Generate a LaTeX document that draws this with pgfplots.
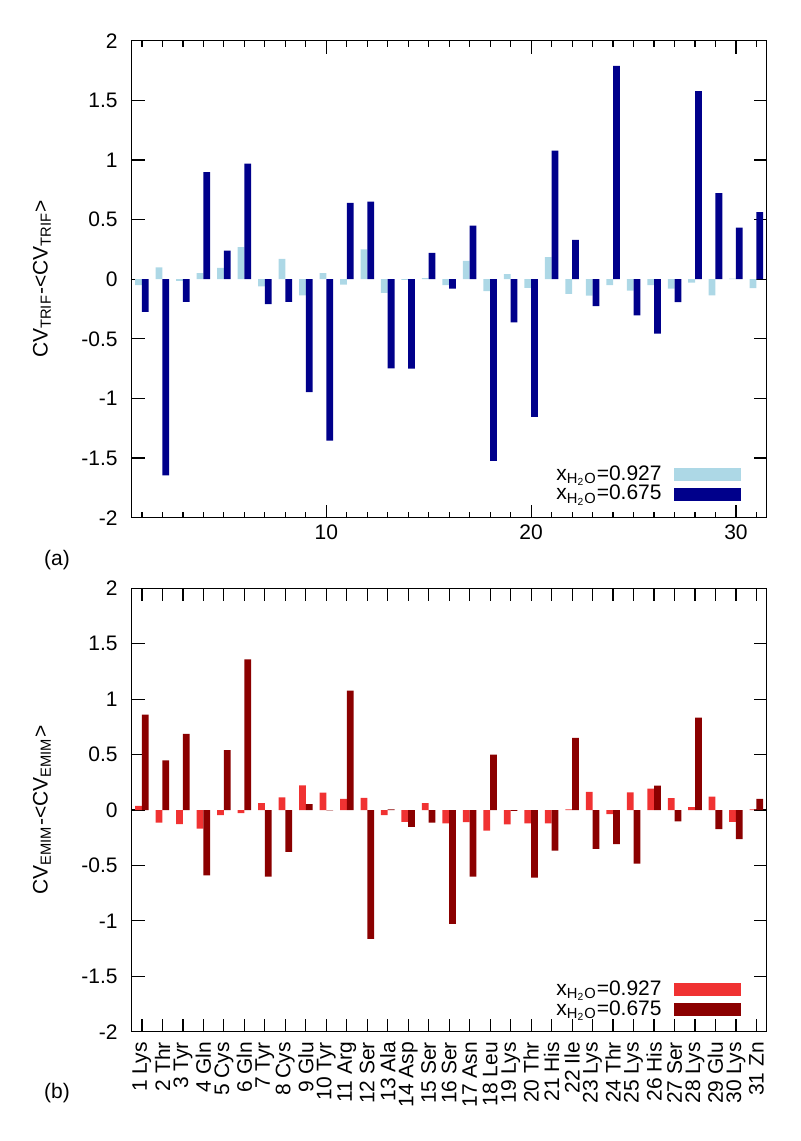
\documentclass[border=0pt]{standalone}
\usepackage{fontspec}
\setmainfont{Liberation Sans}
\usepackage{pgfplots}
\usepackage{pgfplotstable}
\pgfplotsset{compat=1.18}
\definecolor{lb}{RGB}{173,216,230}
\definecolor{db}{RGB}{0,0,139}
\definecolor{lr}{RGB}{240,50,50}
\definecolor{dr}{RGB}{139,0,0}

\pgfplotstableread{
x a b
1 -0.05 -0.275
2 0.10 -1.645
3 -0.015 -0.19
4 0.05 0.897
5 0.095 0.24
6 0.27 0.97
7 -0.06 -0.21
8 0.17 -0.19
9 -0.135 -0.946
10 0.05 -1.353
11 -0.045 0.64
12 0.25 0.65
13 -0.115 -0.747
14 -0.005 -0.75
15 0.01 0.22
16 -0.05 -0.078
17 0.153 0.45
18 -0.10 -1.523
19 0.043 -0.363
20 -0.072 -1.154
21 0.185 1.079
22 -0.124 0.329
23 -0.138 -0.225
24 -0.049 1.788
25 -0.095 -0.303
26 -0.049 -0.456
27 -0.08 -0.193
28 -0.029 1.578
29 -0.135 0.721
30 0.005 0.433
31 -0.075 0.562
}\trif

\pgfplotstableread{
x a b
1 0.037 0.86
2 -0.113 0.447
3 -0.127 0.687
4 -0.167 -0.59
5 -0.047 0.54
6 -0.027 1.36
7 0.063 -0.60
8 0.113 -0.377
9 0.223 0.053
10 0.157 -0.003
11 0.10 1.077
12 0.11 -1.163
13 -0.047 0.005
14 -0.107 -0.153
15 0.063 -0.113
16 -0.12 -1.027
17 -0.11 -0.60
18 -0.187 0.50
19 -0.13 -0.007
20 -0.12 -0.61
21 -0.12 -0.367
22 0.005 0.65
23 0.163 -0.35
24 -0.037 -0.307
25 0.16 -0.483
26 0.193 0.22
27 0.107 -0.103
28 0.027 0.833
29 0.12 -0.173
30 -0.107 -0.263
31 0.005 0.10
}\emim

\pgfplotsset{
  common/.style={
    scale only axis,
    width=317.5pt,
    xmin=0.5, xmax=31.5,
    ymin=-2, ymax=2,
    ytick={-2,-1.5,...,2},
    yticklabels={-2,-1.5,-1,-0.5,0,0.5,1,1.5,2},
    yticklabel style={xshift=-3.5pt},
    axis line style={line width=0.7pt},
    every tick/.style={black, line width=0.6pt},
    major tick length=6.5pt,
    minor tick length=3pt,
    tick align=inside,
    legend plot pos=right,
    legend cell align=right,
    legend style={draw=none, fill=none, at={(0.9595,0.03)}, anchor=south east,
      inner sep=0pt, row sep=1pt, column sep=5pt,
      nodes={inner xsep=1pt, inner ysep=0pt}},
  },
  swatch/.style={legend image code/.code={\path[##1, draw=none] (0pt,-3.2pt) rectangle (33.5pt,3.2pt);}},
}

\begin{document}
\begin{tikzpicture}[font=\fontsize{10.5}{12.5}\selectfont]
\path[use as bounding box] (0,0) rectangle (400pt,-570.5pt);

\begin{axis}[common,
  at={(65.85pt,-20.35pt)}, anchor=north west,
  height=238.5pt,
  xtick={10,20,30},
  xticklabels={10,20,30},
  minor xtick={1,...,31},
  ylabel={CV\textsubscript{TRIF}-<CV\textsubscript{TRIF}>},
  ylabel style={at={(axis description cs:-0.1413,0.5)}, anchor=center},
]
\addplot[ybar, bar width=0.33, bar shift=-0.165, fill=lb, draw=none, swatch] table[x=x,y=a]{\trif};
\addlegendentry{x\textsubscript{H\textsubscript{2}O}=0.927}
\addplot[ybar, bar width=0.33, bar shift=0.165, fill=db, draw=none, swatch] table[x=x,y=b]{\trif};
\addlegendentry{x\textsubscript{H\textsubscript{2}O}=0.675}
\end{axis}

\begin{axis}[common,
  at={(65.85pt,-294.15pt)}, anchor=north west,
  height=221.7pt,
  xtick={1,...,31},
  xticklabels={1 Lys,2 Thr,3 Tyr,4 Gln,5 Cys,6 Gln,7 Tyr,8 Cys,9 Glu,10 Tyr,11 Arg,12 Ser,13 Ala,14 Asp,15 Ser,16 Ser,17 Asn,18 Leu,19 Lys,20 Thr,21 His,22 Ile,23 Lys,24 Thr,25 Lys,26 His,27 Ser,28 Lys,29 Glu,30 Lys,31 Zn},
  xticklabel style={yshift=-5pt, rotate=90, anchor=east, inner sep=0pt},
  ylabel={CV\textsubscript{EMIM}-<CV\textsubscript{EMIM}>},
  ylabel style={at={(axis description cs:-0.1413,0.5)}, anchor=center},
]
\addplot[ybar, bar width=0.33, bar shift=-0.165, fill=lr, draw=none, swatch] table[x=x,y=a]{\emim};
\addlegendentry{x\textsubscript{H\textsubscript{2}O}=0.927}
\addplot[ybar, bar width=0.33, bar shift=0.165, fill=dr, draw=none, swatch] table[x=x,y=b]{\emim};
\addlegendentry{x\textsubscript{H\textsubscript{2}O}=0.675}
\end{axis}

\node at (28.5pt,-280pt) {(a)};
\node at (28.5pt,-546.5pt) {(b)};
\end{tikzpicture}
\end{document}
